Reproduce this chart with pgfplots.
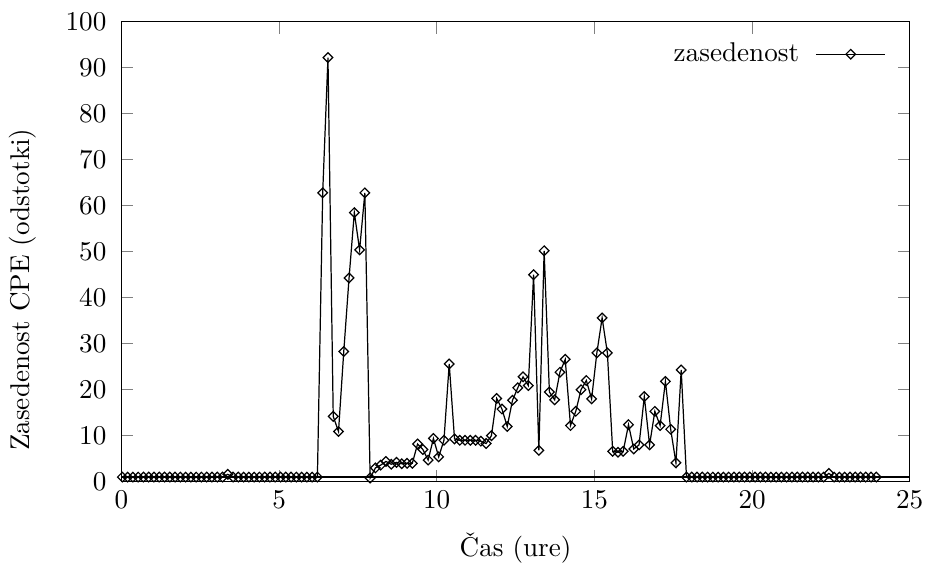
\documentclass[border=0pt]{standalone}
\usepackage{pgfplots}
\pgfplotsset{compat=1.18}
\usepackage{pgfplotstable}

% CPE occupancy, 10-minute samples over one day
\pgfplotstableread{
x y
0.030 1.0
0.197 1.0
0.364 1.0
0.532 1.0
0.699 1.0
0.866 1.0
1.033 1.0
1.200 1.0
1.368 1.0
1.535 1.0
1.702 1.0
1.869 1.0
2.036 1.0
2.204 1.0
2.371 1.0
2.538 1.0
2.705 1.0
2.872 1.0
3.040 1.0
3.207 1.0
3.374 1.6
3.541 1.0
3.708 1.0
3.876 1.0
4.043 1.0
4.210 1.0
4.377 1.0
4.544 1.0
4.712 1.0
4.879 1.0
5.046 1.0
5.213 1.0
5.380 1.0
5.548 1.0
5.715 1.0
5.882 1.0
6.049 1.0
6.216 1.0
6.384 62.8
6.551 92.2
6.718 14.2
6.885 10.9
7.052 28.3
7.220 44.3
7.387 58.5
7.554 50.4
7.721 62.8
7.888 0.8
8.056 3.0
8.223 3.6
8.390 4.4
8.557 3.8
8.724 4.2
8.892 3.9
9.059 4.0
9.226 4.0
9.393 8.2
9.560 7.0
9.728 4.7
9.895 9.4
10.062 5.4
10.229 9.0
10.396 25.6
10.564 9.3
10.731 9.0
10.898 9.0
11.065 9.0
11.232 9.0
11.400 8.8
11.567 8.3
11.734 10.0
11.901 18.1
12.068 15.8
12.236 12.0
12.403 17.7
12.570 20.4
12.737 22.8
12.904 20.9
13.072 45.0
13.239 6.8
13.406 50.2
13.573 19.5
13.740 17.8
13.908 23.8
14.075 26.6
14.242 12.2
14.409 15.3
14.576 20.0
14.744 22.0
14.911 18.0
15.078 28.0
15.245 35.6
15.412 28.0
15.580 6.6
15.747 6.4
15.914 6.6
16.081 12.4
16.248 7.1
16.416 8.0
16.583 18.5
16.750 8.0
16.917 15.3
17.084 12.2
17.252 21.8
17.419 11.4
17.586 4.1
17.753 24.3
17.920 1.0
18.088 1.0
18.255 1.0
18.422 1.0
18.589 1.0
18.756 1.0
18.924 1.0
19.091 1.0
19.258 1.0
19.425 1.0
19.592 1.0
19.760 1.0
19.927 1.0
20.094 1.0
20.261 1.0
20.428 1.0
20.596 1.0
20.763 1.0
20.930 1.0
21.097 1.0
21.264 1.0
21.432 1.0
21.599 1.0
21.766 1.0
21.933 1.0
22.100 1.0
22.268 1.0
22.435 1.8
22.602 1.0
22.769 1.0
22.936 1.0
23.104 1.0
23.271 1.0
23.438 1.0
23.605 1.0
23.772 1.0
23.940 1.0
}\occupancy

\begin{document}
\begin{tikzpicture}
\begin{axis}[
  scale only axis, width=290.5pt, height=169.5pt,
  xmin=0, xmax=25, ymin=0, ymax=100,
  xtick={0,5,...,25}, ytick={0,10,...,100},
  tick align=inside, major tick length=4.4pt,
  axis line style={line width=0.5pt},
  yticklabel style={xshift=-2pt},
  xticklabel style={inner xsep=1pt},
  xlabel={Čas (ure)}, ylabel={Zasedenost CPE (odstotki)},
  xlabel style={yshift=-4.3pt, inner ysep=1pt},
  ylabel style={yshift=4pt, xshift=-14pt},
  legend style={draw=none, fill=none, at={(0.981,0.979)}, anchor=north east},
  legend plot pos=right, legend cell align=right,
  legend image code/.code={\path (0cm,0cm);
    \draw[mark repeat=2,mark phase=2] plot coordinates {(0.14cm,0cm) (0.59cm,0cm) (1.04cm,0cm)};},
]
\addplot[black, line width=0.45pt, mark=square, mark size=1.25pt, mark options={rotate=45, solid, line width=0.45pt}] table {\occupancy};
\addlegendentry{zasedenost}
% flat return line near the bottom
\addplot[black, line width=0.45pt, forget plot] coordinates {(0,1.0) (25,1.0)};
\end{axis}
\path ([yshift=8pt]current axis.north west);
\end{tikzpicture}
\end{document}
